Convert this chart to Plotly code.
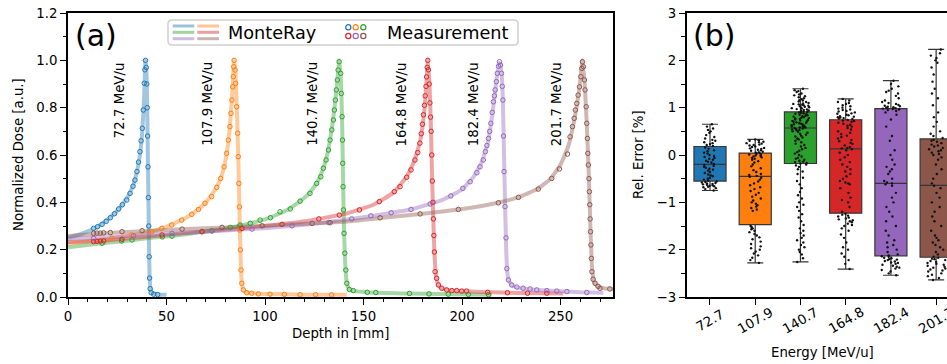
import plotly.graph_objects as go

# ---------------- data: panel (a) ----------------
energies = ["72.7", "107.9", "140.7", "164.8", "182.4", "201.7"]

meas_depth_727 = [13, 15, 17.3, 19.4, 21.5, 23.6, 25.7, 27.6, 29.8, 31.5, 33.0, 34.0, 35.0, 35.8, 36.5, 37.1, 37.7, 38.2, 38.7, 39.0, 39.3, 39.7, 40.0, 40.2, 40.4, 40.6, 40.8, 41.0, 41.2, 41.4, 41.7, 42.2, 43.5, 45.5]
meas_dose_727 = [0.29, 0.297, 0.307, 0.32, 0.335, 0.352, 0.372, 0.39, 0.41, 0.438, 0.468, 0.494, 0.53, 0.57, 0.614, 0.66, 0.713, 0.79, 0.903, 0.96, 1.0, 0.97, 0.9, 0.8, 0.68, 0.55, 0.42, 0.3, 0.17, 0.08, 0.035, 0.018, 0.012, 0.01]
mc_depth_727 = [0, 5, 10, 15, 20, 25, 30, 33, 35, 36.5, 37.7, 38.5, 39.0, 39.3, 39.7, 40.0, 40.3, 40.6, 40.9, 41.2, 41.5, 42, 43, 46, 50]
mc_dose_727 = [0.25, 0.262, 0.277, 0.297, 0.327, 0.365, 0.42, 0.47, 0.53, 0.6, 0.7, 0.82, 0.93, 1.0, 0.97, 0.9, 0.74, 0.55, 0.36, 0.17, 0.07, 0.03, 0.016, 0.011, 0.009]

meas_depth_1079 = [22.2, 32.3, 42.5, 47.6, 52.6, 57.7, 62.8, 66.2, 69.5, 72.9, 75.5, 77.5, 79.2, 80.5, 81.4, 82.2, 82.7, 83.2, 83.6, 83.9, 84.1, 84.3, 84.8, 85.1, 85.6, 86.1, 86.4, 86.7, 87.0, 87.2, 87.5, 87.8, 88.2, 89.0, 90.7, 93.2, 96.6, 102.5, 109.8, 117.8, 125.7, 133.8]
meas_dose_1079 = [0.248, 0.262, 0.276, 0.29, 0.304, 0.325, 0.349, 0.37, 0.396, 0.424, 0.463, 0.501, 0.55, 0.607, 0.663, 0.72, 0.776, 0.832, 0.888, 0.931, 0.973, 1.0, 0.959, 0.903, 0.804, 0.692, 0.593, 0.48, 0.381, 0.283, 0.199, 0.114, 0.058, 0.03, 0.018, 0.016, 0.013, 0.012, 0.011, 0.01, 0.01, 0.009]
mc_depth_1079 = [0, 10, 20, 30, 40, 50, 60, 66, 70, 74, 77, 79.5, 81.3, 82.6, 83.5, 84.3, 85.0, 85.7, 86.4, 87.0, 87.6, 88.2, 89, 91, 100, 120, 141.5]
mc_dose_1079 = [0.225, 0.235, 0.245, 0.258, 0.271, 0.297, 0.335, 0.37, 0.4, 0.445, 0.49, 0.56, 0.65, 0.77, 0.88, 1.0, 0.95, 0.79, 0.6, 0.38, 0.17, 0.06, 0.03, 0.018, 0.013, 0.01, 0.009]

meas_depth_1407 = [17.3, 27.2, 32.5, 47.9, 52.8, 68.0, 72.9, 82.4, 87.3, 92.5, 97.5, 102.7, 107.6, 112.8, 117.8, 122.8, 126.2, 128.3, 129.6, 131.0, 132.2, 133.0, 133.9, 134.7, 135.2, 135.7, 136.2, 136.7, 137.1, 137.6, 138.4, 138.7, 139.1, 139.3, 139.4, 139.6, 139.8, 140.1, 140.5, 141.0, 141.5, 142.8, 144.8, 151.9, 156.2, 173.3, 183.2, 193.0, 203.2, 213.4]
meas_dose_1407 = [0.227, 0.237, 0.241, 0.254, 0.257, 0.276, 0.28, 0.294, 0.304, 0.311, 0.325, 0.335, 0.36, 0.372, 0.405, 0.438, 0.48, 0.508, 0.544, 0.579, 0.621, 0.663, 0.706, 0.748, 0.79, 0.832, 0.875, 0.917, 0.959, 0.994, 0.945, 0.86, 0.762, 0.663, 0.565, 0.466, 0.368, 0.269, 0.185, 0.114, 0.058, 0.032, 0.027, 0.02, 0.019, 0.015, 0.013, 0.012, 0.011, 0.01]
mc_depth_1407 = [0, 10, 20, 30, 40, 50, 60, 70, 80, 90, 100, 110, 117, 122, 126, 129, 131.5, 133.5, 135, 136.3, 137.2, 137.7, 138.5, 139.1, 139.6, 140.1, 140.7, 141.5, 142.8, 145, 152, 170, 195, 215]
mc_dose_1407 = [0.21, 0.22, 0.229, 0.238, 0.248, 0.256, 0.265, 0.278, 0.29, 0.307, 0.328, 0.362, 0.4, 0.435, 0.478, 0.53, 0.6, 0.69, 0.78, 0.88, 0.96, 1.0, 0.92, 0.75, 0.5, 0.28, 0.14, 0.06, 0.032, 0.026, 0.02, 0.015, 0.012, 0.01]

meas_depth_1648 = [13.0, 14.7, 16.4, 18.1, 27.4, 47.7, 68.0, 88.3, 108.6, 127.3, 137.7, 147.9, 158.0, 165.6, 168.5, 171.9, 174.1, 176.1, 177.5, 178.6, 179.3, 179.9, 180.4, 180.9, 181.3, 181.7, 182.0, 182.3, 182.6, 182.9, 183.3, 183.7, 184.0, 184.3, 184.6, 184.9, 185.2, 185.45, 185.7, 185.95, 186.3, 187.1, 188.0, 189.7, 192.2, 194.8, 197.3, 199.8, 202.3, 213.0, 223.0, 233.2, 243.0]
meas_dose_1648 = [0.234, 0.235, 0.236, 0.237, 0.244, 0.262, 0.276, 0.29, 0.307, 0.33, 0.346, 0.368, 0.403, 0.445, 0.466, 0.506, 0.537, 0.579, 0.61, 0.65, 0.69, 0.73, 0.77, 0.81, 0.85, 0.89, 0.93, 0.97, 1.0, 0.96, 0.9, 0.82, 0.76, 0.7, 0.6, 0.49, 0.4, 0.33, 0.26, 0.19, 0.107, 0.079, 0.051, 0.037, 0.03, 0.027, 0.027, 0.025, 0.025, 0.02, 0.018, 0.016, 0.016]
mc_depth_1648 = [0, 20, 40, 60, 80, 100, 120, 140, 155, 165, 172, 176, 179, 181, 182.1, 182.6, 183.4, 184.2, 184.8, 185.4, 186.0, 186.8, 188, 190, 195, 210, 230, 251.4]
mc_dose_1648 = [0.232, 0.24, 0.255, 0.27, 0.284, 0.3, 0.32, 0.35, 0.39, 0.44, 0.51, 0.58, 0.67, 0.8, 0.93, 1.0, 0.91, 0.72, 0.5, 0.33, 0.18, 0.09, 0.05, 0.035, 0.027, 0.021, 0.017, 0.015]

meas_depth_1824 = [13.0, 33.3, 52.8, 73.1, 93.4, 113.7, 132.3, 144.0, 153.7, 164.0, 174.1, 183.8, 194.3, 200.4, 204.1, 207.5, 209.1, 210.8, 211.8, 212.6, 213.4, 214.0, 214.6, 215.3, 215.9, 216.4, 216.8, 217.4, 217.9, 218.5, 219.0, 219.5, 220.0, 220.4, 220.7, 221.0, 221.3, 221.8, 222.3, 222.7, 223.5, 225.2, 227.8, 231.0, 234.5, 237.9, 243.0, 248.1, 253.2, 263.3]
meas_dose_1824 = [0.248, 0.259, 0.269, 0.279, 0.287, 0.301, 0.315, 0.33, 0.343, 0.356, 0.37, 0.393, 0.427, 0.459, 0.487, 0.525, 0.55, 0.579, 0.614, 0.64, 0.67, 0.7, 0.734, 0.78, 0.825, 0.85, 0.875, 0.91, 0.945, 0.975, 0.994, 0.98, 0.945, 0.89, 0.832, 0.68, 0.53, 0.382, 0.25, 0.12, 0.072, 0.051, 0.042, 0.037, 0.034, 0.03, 0.027, 0.025, 0.023, 0.019]
mc_depth_1824 = [0, 20, 40, 60, 80, 100, 120, 140, 160, 175, 190, 200, 206, 210, 213, 215.5, 217.5, 218.9, 220.0, 220.7, 221.3, 221.8, 222.4, 223.0, 224, 226, 232, 245, 260, 271.7]
mc_dose_1824 = [0.245, 0.252, 0.262, 0.272, 0.281, 0.291, 0.305, 0.325, 0.35, 0.372, 0.41, 0.455, 0.51, 0.57, 0.65, 0.78, 0.92, 0.99, 0.95, 0.83, 0.6, 0.4, 0.2, 0.1, 0.065, 0.045, 0.035, 0.026, 0.02, 0.018]

meas_depth_2017 = [13.0, 14.7, 16.4, 18.1, 21.5, 27.4, 37.6, 57.9, 78.2, 98.5, 123.9, 133.0, 158.4, 178.7, 198.1, 218.4, 228.6, 238.7, 245.5, 249.4, 253.5, 254.8, 256.0, 256.9, 257.5, 258.2, 258.9, 259.6, 260.3, 260.8, 261.1, 261.6, 262.1, 262.4, 263.0, 263.3, 263.6, 263.8, 264.1, 264.4, 264.6, 264.8, 265.0, 265.2, 265.4, 265.6, 265.9, 266.5, 267.5, 269.0, 270.0, 275.0]
meas_dose_2017 = [0.269, 0.27, 0.27, 0.271, 0.272, 0.276, 0.28, 0.287, 0.294, 0.301, 0.311, 0.314, 0.335, 0.351, 0.37, 0.398, 0.421, 0.456, 0.501, 0.541, 0.604, 0.677, 0.72, 0.755, 0.79, 0.818, 0.853, 0.888, 0.931, 0.966, 0.994, 0.973, 0.917, 0.875, 0.804, 0.734, 0.67, 0.607, 0.558, 0.5, 0.445, 0.39, 0.33, 0.276, 0.22, 0.163, 0.107, 0.075, 0.058, 0.045, 0.037, 0.034]
mc_depth_2017 = [0, 20, 40, 60, 80, 100, 120, 140, 160, 180, 200, 215, 228, 238, 245, 250, 254, 257, 259.5, 261.1, 262.3, 263.3, 264.3, 265.2, 266, 267, 269, 272, 277]
mc_dose_2017 = [0.258, 0.27, 0.279, 0.287, 0.294, 0.301, 0.31, 0.318, 0.335, 0.352, 0.372, 0.393, 0.42, 0.455, 0.5, 0.56, 0.64, 0.75, 0.88, 1.0, 0.89, 0.73, 0.52, 0.28, 0.12, 0.065, 0.045, 0.037, 0.033]

# ---------------- data: panel (b) ----------------
err_727 = [0.65, 0.6, 0.56, 0.53, 0.5, 0.47, 0.42, 0.38, 0.35, 0.32, 0.3, 0.27, 0.25, 0.23, 0.21, 0.19,
           0.16, 0.13, 0.1, 0.08, 0.05, 0.03, 0.0, -0.02, -0.04, -0.06, -0.08, -0.1, -0.12, -0.14, -0.16, -0.19,
           -0.21, -0.23, -0.25, -0.27, -0.29, -0.31, -0.33, -0.36, -0.38, -0.41, -0.43, -0.45, -0.48, -0.5, -0.52, -0.54,
           -0.56, -0.57, -0.58, -0.59, -0.6, -0.61, -0.62, -0.63, -0.64, -0.65, -0.66, -0.67, -0.68, -0.7, -0.72, -0.75]
err_1079 = [0.33, 0.31, 0.3, 0.28, 0.27, 0.25, 0.24, 0.22, 0.21, 0.2, 0.18, 0.17, 0.15, 0.14, 0.13, 0.11, 0.1, 0.09, 0.07, 0.06, 0.05,
            0.03, 0.02, 0.01, 0.0, -0.01, -0.02, -0.03, -0.05, -0.06, -0.08, -0.1, -0.13, -0.16, -0.2, -0.24, -0.28, -0.32, -0.36, -0.4, -0.42, -0.44,
            -0.46, -0.48, -0.52, -0.56, -0.6, -0.64, -0.68, -0.72, -0.76, -0.8, -0.84, -0.88, -0.92, -0.96, -1.0, -1.03, -1.06, -1.09, -1.12, -1.15, -1.18,
            -1.5, -1.52, -1.55, -1.57, -1.6, -1.63, -1.67, -1.7, -1.74, -1.78, -1.83, -1.88, -1.93, -1.97, -2.0, -2.04, -2.08, -2.12, -2.17, -2.22, -2.28]
err_1407 = [1.4, 1.37, 1.35, 1.33, 1.3, 1.28, 1.26, 1.24, 1.22, 1.2, 1.18, 1.16, 1.15, 1.13, 1.12, 1.1, 1.09, 1.08, 1.07, 1.06, 1.05, 1.04, 1.03, 1.02, 1.01, 1.0, 0.99, 0.98, 0.97, 0.96, 0.95, 0.94, 0.93, 0.92, 0.91,
            0.9, 0.89, 0.88, 0.87, 0.86, 0.85, 0.84, 0.83, 0.82, 0.81, 0.8, 0.79, 0.78, 0.77, 0.76, 0.75, 0.74, 0.73, 0.72, 0.71, 0.7, 0.69, 0.68, 0.67, 0.66, 0.65, 0.64, 0.63, 0.62, 0.61, 0.6, 0.59, 0.58, 0.58, 0.57,
            0.56, 0.55, 0.54, 0.53, 0.52, 0.5, 0.49, 0.47, 0.45, 0.43, 0.41, 0.39, 0.37, 0.35, 0.33, 0.3, 0.27, 0.24, 0.21, 0.18, 0.15, 0.12, 0.09, 0.06, 0.03, 0.0, -0.03, -0.06, -0.08, -0.1, -0.12, -0.14, -0.15, -0.17, -0.18,
            -0.2, -0.22, -0.25, -0.3, -0.35, -0.4, -0.48, -0.55, -0.62, -0.7, -0.78, -0.85, -0.92, -1.0, -1.05, -1.1, -1.18, -1.25, -1.32, -1.4, -1.48, -1.55, -1.6, -1.65, -1.7, -1.75, -1.8, -1.85, -1.9, -1.95, -2.0, -2.05, -2.1, -2.18, -2.26]
err_1648 = [1.185, 1.15, 1.12, 1.1, 1.08, 1.05, 1.03, 1.0, 0.98, 0.96, 0.95, 0.93, 0.92, 0.9, 0.88, 0.87, 0.85, 0.84, 0.82, 0.81, 0.8, 0.79, 0.78, 0.77, 0.76,
            0.74, 0.73, 0.72, 0.7, 0.68, 0.66, 0.64, 0.62, 0.6, 0.57, 0.54, 0.5, 0.47, 0.44, 0.41, 0.38, 0.35, 0.32, 0.29, 0.26, 0.23, 0.2, 0.17, 0.15, 0.14,
            0.12, 0.1, 0.05, 0.0, -0.05, -0.1, -0.15, -0.2, -0.25, -0.3, -0.35, -0.4, -0.45, -0.5, -0.55, -0.58, -0.6, -0.62, -0.7, -0.8, -0.9, -0.95, -1.0, -1.1, -1.2,
            -1.24, -1.26, -1.28, -1.3, -1.32, -1.34, -1.36, -1.38, -1.4, -1.42, -1.45, -1.48, -1.5, -1.55, -1.6, -1.68, -1.75, -1.85, -1.95, -2.0, -2.08, -2.15, -2.22, -2.3, -2.41]
err_1824 = [1.57, 1.5, 1.45, 1.4, 1.36, 1.33, 1.3, 1.25, 1.2, 1.15, 1.12, 1.1, 1.08, 1.06, 1.04, 1.03, 1.02, 1.01, 1.0, 0.99, 0.98,
            0.97, 0.96, 0.95, 0.93, 0.9, 0.85, 0.75, 0.6, 0.4, 0.3, 0.1, 0.0, -0.1, -0.2, -0.25, -0.3, -0.35, -0.4, -0.5, -0.55, -0.58,
            -0.6, -0.62, -0.65, -0.8, -0.9, -1.0, -1.1, -1.2, -1.3, -1.4, -1.5, -1.6, -1.7, -1.8, -1.85, -1.9, -1.95, -2.0, -2.05, -2.1, -2.12,
            -2.14, -2.15, -2.17, -2.18, -2.2, -2.21, -2.22, -2.24, -2.25, -2.27, -2.28, -2.3, -2.32, -2.34, -2.36, -2.38, -2.4, -2.43, -2.46, -2.5, -2.54]
err_2017 = [2.23, 2.15, 2.1, 2.05, 2.0, 1.95, 1.85, 1.7, 1.55, 1.4, 1.3, 1.2, 1.05, 0.9, 0.8, 0.7, 0.6, 0.5, 0.45, 0.4, 0.36,
            0.32, 0.3, 0.28, 0.25, 0.22, 0.2, 0.18, 0.15, 0.12, 0.1, 0.08, 0.05, 0.02, 0.0, -0.05, -0.1, -0.2, -0.3, -0.4, -0.5, -0.6,
            -0.65, -0.7, -0.8, -0.9, -1.0, -1.1, -1.2, -1.3, -1.4, -1.5, -1.6, -1.7, -1.75, -1.8, -1.85, -1.9, -1.95, -2.0, -2.05, -2.1, -2.15,
            -2.17, -2.19, -2.2, -2.22, -2.24, -2.26, -2.28, -2.3, -2.32, -2.34, -2.36, -2.38, -2.4, -2.42, -2.44, -2.46, -2.5, -2.53, -2.56, -2.6, -2.64]

box_q1 = [-0.55, -1.47, -0.18, -1.23, -2.13, -2.16]
box_median = [-0.20, -0.45, 0.57, 0.13, -0.60, -0.64]
box_q3 = [0.18, 0.04, 0.91, 0.745, 0.98, 0.34]
box_low = [-0.75, -2.28, -2.26, -2.41, -2.54, -2.64]
box_high = [0.65, 0.33, 1.40, 1.185, 1.57, 2.23]

# ---------------- styling ----------------
W, H = 947, 364
colors = [(31, 119, 180), (255, 127, 14), (44, 160, 44), (214, 39, 40), (148, 103, 189), (140, 86, 75)]
def rgb(c, a=1.0):
    return f"rgba({c[0]},{c[1]},{c[2]},{a})"
FONT = "DejaVu Sans"
FS = 13.3

def px(x):
    return x / W
def py(y):
    return 1 - y / H

meas_depths = [meas_depth_727, meas_depth_1079, meas_depth_1407, meas_depth_1648, meas_depth_1824, meas_depth_2017]
meas_doses = [meas_dose_727, meas_dose_1079, meas_dose_1407, meas_dose_1648, meas_dose_1824, meas_dose_2017]
mc_depths = [mc_depth_727, mc_depth_1079, mc_depth_1407, mc_depth_1648, mc_depth_1824, mc_depth_2017]
mc_doses = [mc_dose_727, mc_dose_1079, mc_dose_1407, mc_dose_1648, mc_dose_1824, mc_dose_2017]
errs = [err_727, err_1079, err_1407, err_1648, err_1824, err_2017]

fig = go.Figure()

for i in range(6):
    fig.add_trace(go.Scatter(x=mc_depths[i], y=mc_doses[i], mode="lines",
                             line=dict(color=rgb(colors[i], 0.42), width=4, shape="spline", smoothing=0.4),
                             showlegend=False, xaxis="x", yaxis="y", hoverinfo="skip"))
for i in range(6):
    fig.add_trace(go.Scatter(x=meas_depths[i], y=meas_doses[i], mode="markers",
                             marker=dict(symbol="circle-open", size=4.5, color=rgb(colors[i]), line=dict(width=1)),
                             showlegend=False, xaxis="x", yaxis="y"))

annotations = []
for i in range(6):
    k = max(range(len(meas_doses[i])), key=lambda j: meas_doses[i][j])
    annotations.append(dict(x=meas_depths[i][k] - 13.5, y=1.0, xref="x", yref="y", text=f"{energies[i]} MeV/u",
                            textangle=-90, showarrow=False, xanchor="center", yanchor="top",
                            font=dict(family=FONT, size=FS, color="black")))

# panel (b) boxes
for i in range(6):
    fig.add_trace(go.Box(x=[i], q1=[box_q1[i]], median=[box_median[i]], q3=[box_q3[i]],
                         lowerfence=[box_low[i]], upperfence=[box_high[i]],
                         fillcolor=rgb(colors[i]), line=dict(color="#363636", width=1.2),
                         width=0.71, whiskerwidth=0.5, boxpoints=False, showlegend=False,
                         xaxis="x2", yaxis="y2"))
# swarm points
px_all, py_all = [], []
for i in range(6):
    px_all += [i] * len(errs[i])
    py_all += errs[i]
fig.add_trace(go.Box(x=px_all, y=py_all, boxpoints="all", jitter=1.0, pointpos=0, width=0.42,
                     fillcolor="rgba(0,0,0,0)", line=dict(width=0, color="rgba(0,0,0,0)"),
                     marker=dict(color="#111111", size=2.4), showlegend=False,
                     xaxis="x2", yaxis="y2"))

# domains
xa = [px(68), px(613)]
ya = [py(297), py(13)]
xb = [px(686.7), 1.0]

axis_common = dict(showgrid=False, zeroline=False, showline=True, linecolor="black", linewidth=1.8,
                   ticks="outside", ticklen=6, tickwidth=1.3, tickcolor="black", automargin=False,
                   tickfont=dict(family=FONT, size=FS, color="black"))

fig.update_layout(
    width=W, height=H, margin=dict(l=0, r=0, t=0, b=0),
    paper_bgcolor="white", plot_bgcolor="white", boxmode="overlay",
    font=dict(family=FONT, size=FS, color="black"),
    xaxis=dict(domain=xa, range=[0, 276.6], anchor="y", tickvals=[0, 50, 100, 150, 200, 250], mirror=True,
               minor=dict(dtick=10, ticklen=3.5, tickwidth=1, tickcolor="black", ticks="outside"), **axis_common),
    yaxis=dict(domain=ya, range=[0, 1.2], anchor="x", dtick=0.2, tickformat=".1f", mirror=True,
               minor=dict(dtick=0.1, ticklen=3.5, tickwidth=1, tickcolor="black", ticks="outside"), **axis_common),
    xaxis2=dict(domain=xb, range=[-0.515, 5.24], anchor="y2", tickvals=list(range(6)), ticktext=energies,
                showticklabels=False, mirror=True, **axis_common),
    yaxis2=dict(domain=ya, range=[-3, 3], anchor="x2", dtick=1, mirror=False,
                minor=dict(dtick=0.5, ticklen=3.5, tickwidth=1, tickcolor="black", ticks="outside"), **axis_common),
)

# rotated category labels (centered on ticks)
for i, e in enumerate(energies):
    annotations.append(dict(x=i, y=py(320), xref="x2", yref="paper", text=e, textangle=-30, showarrow=False,
                            xanchor="center", yanchor="middle", font=dict(family=FONT, size=FS, color="black")))

# axis titles
annotations.append(dict(x=px(340.5), y=py(333), xref="paper", yref="paper", text="Depth in [mm]", showarrow=False,
                        xanchor="center", yanchor="middle", font=dict(family=FONT, size=FS, color="black")))
annotations.append(dict(x=px(18), y=py(155), xref="paper", yref="paper", text="Normalized Dose [a.u.]", showarrow=False,
                        textangle=-90, xanchor="center", yanchor="middle", font=dict(family=FONT, size=FS, color="black")))
annotations.append(dict(x=px(822), y=py(352), xref="paper", yref="paper", text="Energy [MeV/u]", showarrow=False,
                        xanchor="center", yanchor="middle", font=dict(family=FONT, size=FS, color="black")))
annotations.append(dict(x=px(638), y=py(155), xref="paper", yref="paper", text="Rel. Error [%]", showarrow=False,
                        textangle=-90, xanchor="center", yanchor="middle", font=dict(family=FONT, size=FS, color="black")))

# panel letters
annotations.append(dict(x=px(96), y=py(35), xref="paper", yref="paper", text="(a)", showarrow=False,
                        xanchor="center", yanchor="middle", font=dict(family=FONT, size=30, color="black")))
annotations.append(dict(x=px(714), y=py(35), xref="paper", yref="paper", text="(b)", showarrow=False,
                        xanchor="center", yanchor="middle", font=dict(family=FONT, size=30, color="black")))

# custom legend
shapes = []
lx0, lx1, ly0, ly1, r = 168, 518, 20, 45, 4
path = (f"M {px(lx0 + r)},{py(ly0)} L {px(lx1 - r)},{py(ly0)} Q {px(lx1)},{py(ly0)} {px(lx1)},{py(ly0 + r)} "
        f"L {px(lx1)},{py(ly1 - r)} Q {px(lx1)},{py(ly1)} {px(lx1 - r)},{py(ly1)} "
        f"L {px(lx0 + r)},{py(ly1)} Q {px(lx0)},{py(ly1)} {px(lx0)},{py(ly1 - r)} "
        f"L {px(lx0)},{py(ly0 + r)} Q {px(lx0)},{py(ly0)} {px(lx0 + r)},{py(ly0)} Z")
shapes.append(dict(type="path", xref="paper", yref="paper", path=path,
                   line=dict(color="#d0d0d0", width=1.5), fillcolor="rgba(255,255,255,0.8)", layer="above"))
line_cols = [(172.7, 194.3), (197.3, 219.0)]
line_rows = [26, 32.3, 38.7]
line_order = [[0, 2, 4], [1, 3, 5]]
for c, (xs0, xs1) in enumerate(line_cols):
    for rr, yy in enumerate(line_rows):
        shapes.append(dict(type="line", xref="paper", yref="paper", x0=px(xs0), x1=px(xs1), y0=py(yy), y1=py(yy),
                           line=dict(color=rgb(colors[line_order[c][rr]], 0.45), width=3), layer="above"))
circ_cols = [348.3, 355.7, 363.3]
circ_rows = [27.3, 36.0]
circ_order = [[0, 1, 2], [3, 4, 5]]
for rr, yy in enumerate(circ_rows):
    for c, xx in enumerate(circ_cols):
        shapes.append(dict(type="circle", xref="paper", yref="paper", x0=px(xx - 2.6), x1=px(xx + 2.6),
                           y0=py(yy + 2.6), y1=py(yy - 2.6),
                           line=dict(color=rgb(colors[circ_order[rr][c]]), width=1.2), layer="above"))
annotations.append(dict(x=px(226), y=py(32.5), xref="paper", yref="paper", text="MonteRay", showarrow=False,
                        xanchor="left", yanchor="middle", font=dict(family=FONT, size=17.7, color="black")))
annotations.append(dict(x=px(385), y=py(32.5), xref="paper", yref="paper", text="Measurement", showarrow=False,
                        xanchor="left", yanchor="middle", font=dict(family=FONT, size=17.7, color="black")))

fig.update_layout(annotations=annotations, shapes=shapes)
fig.write_html("out.html")
